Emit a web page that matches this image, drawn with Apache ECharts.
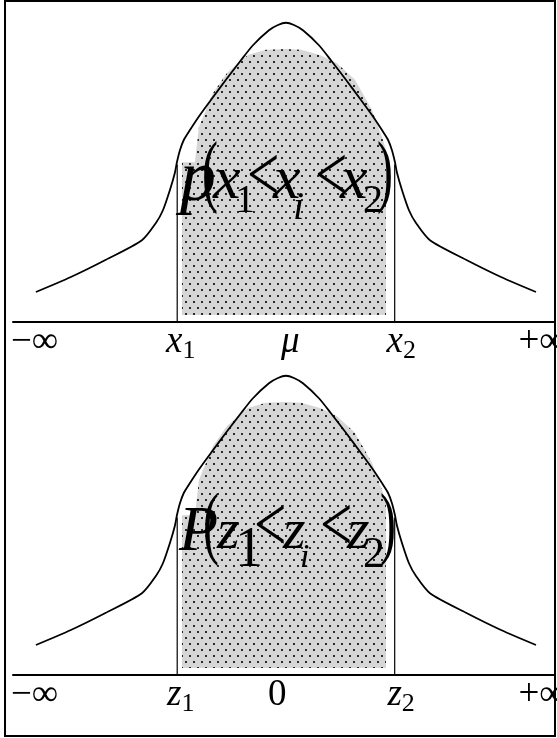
<!DOCTYPE html>
<html>
<head>
<meta charset="utf-8">
<script src="https://cdn.jsdelivr.net/npm/echarts@6/dist/echarts.min.js"></script>
<style>
  html, body { margin: 0; padding: 0; background: #fff; }
  #chart { width: 557px; height: 738px; }
</style>
</head>
<body>
<div id="chart"></div>
<script>
// Bell curve profile shared by both panels (x in sigma units, y as density)
const curveX = [-3.472, -2.986, -2.5, -2.0, -1.806, -1.708, -1.611, -1.542, -1.514, -1.472, -1.417, -1.333, -1.194, -1.042, -0.833, -0.625, -0.458, -0.236, -0.111, 0,
                0.111, 0.236, 0.458, 0.625, 0.833, 1.042, 1.194, 1.333, 1.417, 1.472, 1.514, 1.542, 1.611, 1.708, 1.806, 2.0, 2.5, 2.986, 3.472];
const curveY = [0.040, 0.060, 0.083, 0.109, 0.132, 0.149, 0.176, 0.199, 0.213, 0.229, 0.243, 0.256, 0.276, 0.296, 0.323, 0.349, 0.369, 0.389, 0.396, 0.399,
                0.396, 0.389, 0.369, 0.349, 0.323, 0.296, 0.276, 0.256, 0.243, 0.229, 0.213, 0.199, 0.176, 0.149, 0.132, 0.109, 0.083, 0.060, 0.040];

// Interval bounds and the height where the bound lines meet the curve
const lowerBound = -1.51;
const upperBound = 1.51;
const boundTop = 0.21;

// Dotted probability region between the bounds
const shadeX   = [-1.444, -1.264, -1.208, -1.014, -0.819, -0.528, -0.278, 0, 0.208, 0.472, 0.708, 0.958, 1.194, 1.347, 1.389];
const shadeTop = [0.213, 0.213, 0.260, 0.305, 0.332, 0.356, 0.363, 0.364, 0.363, 0.356, 0.345, 0.323, 0.283, 0.243, 0.229];
const shadeBase = 0.0093;

// Axis tick labels
const tickPos = [-3.49, -1.46, 0.06, 1.6, 3.556];
const tickPosZ = [-3.49, -1.46, -0.12, 1.6, 3.556];
const topTickLabels = ['−∞', '{v|x}{s|1}', '{v|μ}', '{v|x}{s|2}', '+∞'];
const bottomTickLabels = ['−∞', '{v|z}{s|1}', '0', '{v|z}{s|2}', '+∞'];

// Probability statements written over the shaded region
const topFormula = ['p', '(', 'x', '1', '<', 'x', 'i', '<', 'x', '2', ')'];
const bottomFormula = ['P', '(', 'z', '1', '<', 'z', 'i', '<', 'z', '2', ')'];
const formulaY = 0.16;

const SERIF = "'Liberation Serif', 'Times New Roman', serif";
const X_MIN = -3.79, X_MAX = 3.736, Y_MAX = 0.428;

function dotPattern() {
  const c = document.createElement('canvas');
  c.width = 8; c.height = 12;
  const g = c.getContext('2d');
  g.fillStyle = '#d6d6d6';
  g.fillRect(0, 0, 8, 12);
  g.fillStyle = '#2a2a2a';
  g.fillRect(1, 1, 2, 2);
  g.fillRect(5, 7, 2, 2);
  return c;
}
const pattern = { image: dotPattern(), repeat: 'repeat' };

const chart = echarts.init(document.getElementById('chart'), null, { renderer: 'canvas' });

function panelAxes(idx, positions, labels) {
  return {
    type: 'value', gridIndex: idx, min: X_MIN, max: X_MAX,
    axisLine: { show: true, onZero: true, lineStyle: { color: '#000', width: 2 } },
    axisTick: { show: false },
    splitLine: { show: false },
    axisLabel: {
      show: true,
      customValues: positions,
      margin: -2,
      color: '#000',
      fontFamily: SERIF,
      fontSize: 37,
      lineHeight: 44,
      formatter: function (v) {
        const i = positions.findIndex(p => Math.abs(p - v) < 1e-6);
        return i >= 0 ? labels[i] : '';
      },
      rich: {
        v: { fontFamily: SERIF, fontStyle: 'italic', fontSize: 37, lineHeight: 44, color: '#000' },
        s: { fontFamily: SERIF, fontSize: 26, lineHeight: 44, verticalAlign: 'bottom', color: '#000' }
      }
    }
  };
}

function panelSeries(idx) {
  const curve = curveX.map((x, i) => [x, curveY[i]]);
  return [
    {
      // dotted region drawn as one polygon through the axis scales
      type: 'custom', xAxisIndex: idx, yAxisIndex: idx, data: [[0, 0]], silent: true, z: 1,
      renderItem: function (params, api) {
        const pts = [api.coord([shadeX[0], shadeBase])];
        shadeX.forEach((x, i) => pts.push(api.coord([x, shadeTop[i]])));
        pts.push(api.coord([shadeX[shadeX.length - 1], shadeBase]));
        return { type: 'polygon', shape: { points: pts }, style: { fill: pattern, stroke: null } };
      }
    },
    { type: 'line', xAxisIndex: idx, yAxisIndex: idx, data: curve,
      symbol: 'none', smooth: 0.25, lineStyle: { color: '#000', width: 1.8 }, silent: true, z: 3 },
    { type: 'line', xAxisIndex: idx, yAxisIndex: idx, data: [[lowerBound, 0], [lowerBound, boundTop]],
      symbol: 'none', lineStyle: { color: '#000', width: 1.2 }, silent: true, z: 3 },
    { type: 'line', xAxisIndex: idx, yAxisIndex: idx, data: [[upperBound, 0], [upperBound, boundTop]],
      symbol: 'none', lineStyle: { color: '#000', width: 1.2 }, silent: true, z: 3 }
  ];
}

chart.setOption({
  animation: false,
  backgroundColor: '#fff',
  grid: [
    { left: 13, width: 542, top: 1, height: 321, outerBoundsMode: 'none', containLabel: false },
    { left: 13, width: 542, top: 354, height: 321, outerBoundsMode: 'none', containLabel: false }
  ],
  xAxis: [panelAxes(0, tickPos, topTickLabels), panelAxes(1, tickPosZ, bottomTickLabels)],
  yAxis: [
    { type: 'value', gridIndex: 0, min: 0, max: Y_MAX, show: false },
    { type: 'value', gridIndex: 1, min: 0, max: Y_MAX, show: false }
  ],
  series: panelSeries(0).concat(panelSeries(1))
});

// Glyph layout for the formulas: horizontal offset, baseline shift, size, italic, horizontal squeeze
const topLayout = [
  [-106, 4, 72, true, 1], [-84, 1, 80, false, 0.6], [-73, 1, 62, true, 1], [-51, 13, 40, false, 1],
  [-39, 5, 80, false, 0.72], [-13, 1, 62, true, 1], [7, 20, 40, true, 1], [29, 5, 80, false, 0.72],
  [54, 1, 62, true, 1], [77, 13, 40, false, 1], [91, 1, 80, false, 0.6]
];
const bottomLayout = [
  [-107, 0, 64, true, 1], [-83, 0, 80, false, 0.6], [-69, -3, 58, true, 1], [-51, 15, 56, false, 1],
  [-32, 2, 80, false, 0.72], [-3, -3, 58, true, 1], [14, 15, 34, true, 1], [34, 2, 80, false, 0.72],
  [61, -3, 58, true, 1], [77, 15, 44, false, 1], [94, 0, 80, false, 0.6]
];

function formulaGraphics(gridIndex, glyphs, layout) {
  const anchor = chart.convertToPixel({ gridIndex: gridIndex }, [0, formulaY]);
  return glyphs.map((g, i) => {
    const [dx, dy, size, italic, sx] = layout[i];
    return {
      type: 'text', z: 10,
      x: anchor[0] + dx,
      y: anchor[1] + dy - 0.34 * size,
      scaleX: sx,
      style: {
        text: g, fill: '#000', align: 'left', verticalAlign: 'middle',
        font: (italic ? 'italic ' : '') + size + 'px ' + SERIF
      }
    };
  });
}

chart.setOption({
  graphic: formulaGraphics(0, topFormula, topLayout)
    .concat(formulaGraphics(1, bottomFormula, bottomLayout))
    .concat([{
      type: 'rect', z: 20, silent: true,
      shape: { x: 5, y: 1, width: 550, height: 735 },
      style: { fill: 'none', stroke: '#000', lineWidth: 2 }
    }])
});
</script>
</body>
</html>
